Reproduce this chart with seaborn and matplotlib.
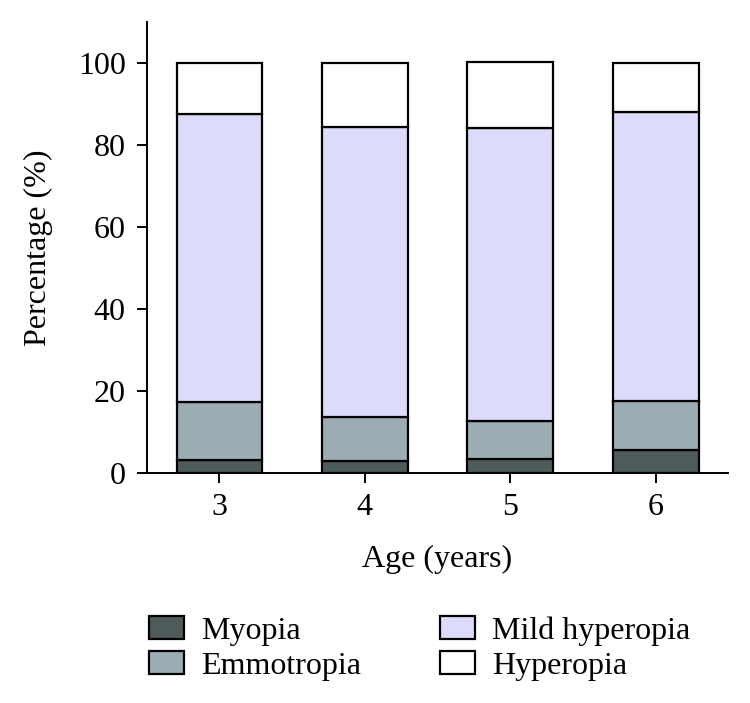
import pandas as pd
import numpy as np
import matplotlib
matplotlib.use("Agg")
import matplotlib.pyplot as plt
import seaborn as sns

# Data (percent per age group)
ages = ["3", "4", "5", "6"]
categories = ["Myopia", "Emmotropia", "Mild hyperopia", "Hyperopia"]
myopia = [3.3, 3.1, 3.6, 5.7]
emmotropia = [14.1, 10.6, 9.1, 11.8]
mild_hyperopia = [70.1, 70.7, 71.3, 70.5]
hyperopia = [12.4, 15.6, 16.2, 11.9]
colors = ["#4d5b5b", "#9badb2", "#dcdcfa", "#ffffff"]

sns.set_style("ticks")
plt.rcParams['font.family'] = ['Liberation Serif', 'DejaVu Serif']
plt.rcParams['text.color'] = 'black'
plt.rcParams['axes.labelcolor'] = 'black'
plt.rcParams['xtick.color'] = 'black'
plt.rcParams['ytick.color'] = 'black'

# long table
data = pd.DataFrame({
    "Age": ages * 4,
    "Category": np.repeat(categories, len(ages)),
    "Value": myopia + emmotropia + mild_hyperopia + hyperopia,
})

fs = 23
fig = plt.figure(figsize=(7.5, 7.03), dpi=100)
ax = fig.add_axes([0.1956, 0.3267, 0.7755, 0.6425])

bottom = np.zeros(len(ages))
for cat, col in zip(categories, colors):
    sub = data[data["Category"] == cat]
    sns.barplot(data=sub, x="Age", y="Value", color=col, bottom=bottom,
                width=0.59, edgecolor="black", linewidth=1.6,
                label=cat, ax=ax, saturation=1)
    bottom = bottom + sub["Value"].values

ax.set_xlim(-0.5, 3.5)
ax.set_ylim(0, 110)
ax.set_yticks([0, 20, 40, 60, 80, 100])
ax.set_xlabel("Age (years)", fontsize=fs, labelpad=17)
ax.set_ylabel("Percentage (%)", fontsize=fs, labelpad=18)
ax.tick_params(labelsize=fs, width=1.4, length=7, colors="black")
ax.tick_params(axis="y", pad=8)
ax.tick_params(axis="x", pad=7)
for s in ["left", "bottom"]:
    ax.spines[s].set_linewidth(1.4)
    ax.spines[s].set_color("black")
sns.despine(ax=ax)

handles, labels = ax.get_legend_handles_labels()
if ax.legend_:
    ax.legend_.remove()
fig.legend(handles, labels, ncol=2, loc="upper left",
           bbox_to_anchor=(0.177, 0.146), frameon=False, fontsize=fs,
           handlelength=1.1, handleheight=0.71, handletextpad=0.55,
           columnspacing=2.45, labelspacing=0.17, borderpad=0)

fig.savefig("out.png", dpi=100)
